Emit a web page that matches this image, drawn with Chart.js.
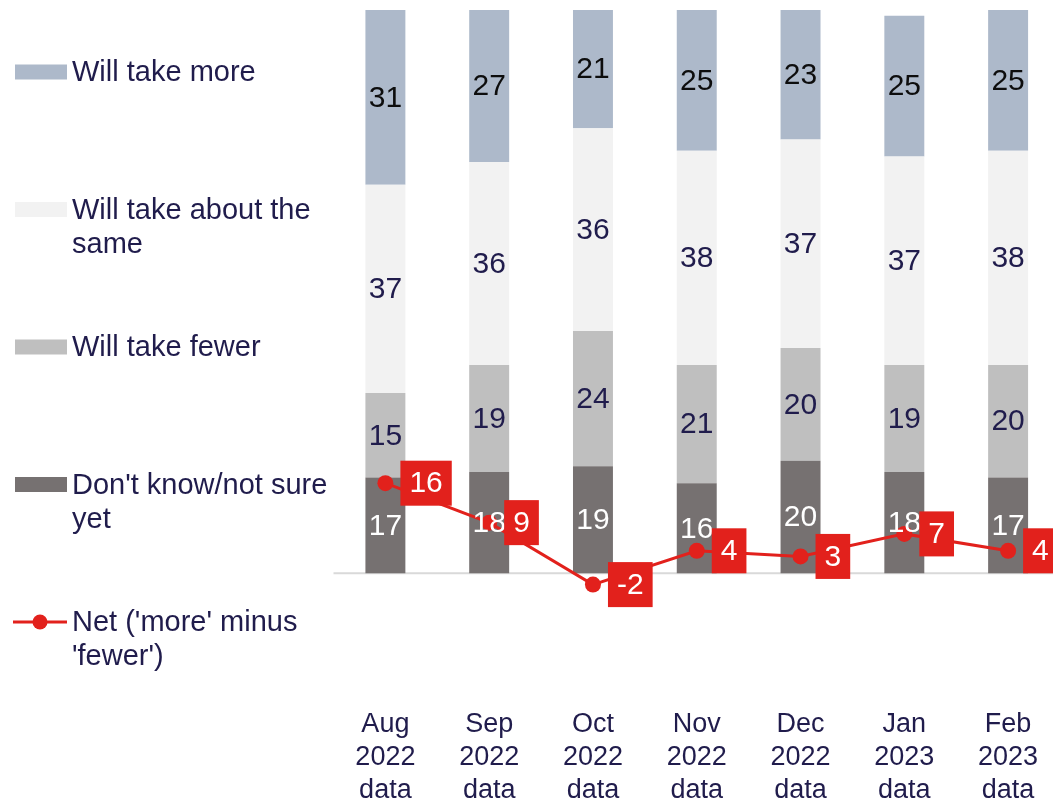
<!DOCTYPE html>
<html lang="en">
<head>
<meta charset="utf-8" />
<title>Expected number to take, by survey month</title>
<script src="https://cdn.jsdelivr.net/npm/chart.js@4.4.1/dist/chart.umd.min.js"></script>
<style>
  html, body { margin: 0; padding: 0; background: #fff; overflow: hidden; }
  canvas { display: block; }
</style>
</head>
<body>
<canvas id="chart" width="1060" height="802"></canvas>
<script>
const MONTHS = [
  ["Aug", "2022", "data"],
  ["Sep", "2022", "data"],
  ["Oct", "2022", "data"],
  ["Nov", "2022", "data"],
  ["Dec", "2022", "data"],
  ["Jan", "2023", "data"],
  ["Feb", "2023", "data"],
];
const WILL_TAKE_MORE = [31, 27, 21, 25, 23, 25, 25];
const ABOUT_THE_SAME = [37, 36, 36, 38, 37, 37, 38];
const WILL_TAKE_FEWER = [15, 19, 24, 21, 20, 19, 20];
const DONT_KNOW = [17, 18, 19, 16, 20, 18, 17];
const NET = [16, 9, -2, 4, 3, 7, 4];

// legend entries top to bottom, already wrapped
const LEGEND_TEXT = [
  ["Will take more"],
  ["Will take about the", "same"],
  ["Will take fewer"],
  ["Don't know/not sure", "yet"],
  ["Net ('more' minus", "'fewer')"],
];

const FONT = '"Liberation Sans", Arial, sans-serif';
const NAVY = "#201c4c";
const RED = "#e2211c";

const label = (k) => LEGEND_TEXT[k].join(" ");

// bottom of the stack first
const datasets = [
  { type: "bar", label: label(3), data: DONT_KNOW, backgroundColor: "#767171", labelColor: "#ffffff" },
  { type: "bar", label: label(2), data: WILL_TAKE_FEWER, backgroundColor: "#bfbfbf", labelColor: NAVY },
  { type: "bar", label: label(1), data: ABOUT_THE_SAME, backgroundColor: "#f2f2f2", labelColor: NAVY },
  { type: "bar", label: label(0), data: WILL_TAKE_MORE, backgroundColor: "#adb9ca", labelColor: "#0d0d0d" },
  {
    type: "line",
    label: label(4),
    data: NET,
    stack: "net",
    order: 0,
    borderColor: RED,
    backgroundColor: RED,
    borderWidth: 3,
    pointRadius: 8,
    pointBackgroundColor: RED,
    pointBorderWidth: 0,
    tension: 0,
  },
].map((d) => (d.type === "bar" ? { ...d, order: 1, borderWidth: 0, barPercentage: 0.385, categoryPercentage: 1 } : d));

const zeroLine = {
  id: "zeroLine",
  beforeDatasetsDraw(chart) {
    const { ctx, chartArea } = chart;
    const y = chart.scales.y.getPixelForValue(0);
    ctx.save();
    ctx.strokeStyle = "#d9d9d9";
    ctx.lineWidth = 2;
    ctx.beginPath();
    ctx.moveTo(chartArea.left, y);
    ctx.lineTo(chartArea.right, y);
    ctx.stroke();
    ctx.restore();
  },
};

const valueLabels = {
  id: "valueLabels",
  afterDatasetsDraw(chart) {
    const ctx = chart.ctx;
    ctx.save();
    ctx.font = `30px ${FONT}`;
    ctx.textAlign = "center";
    ctx.textBaseline = "middle";

    chart.data.datasets.forEach((ds, di) => {
      if (ds.type !== "bar") return;
      chart.getDatasetMeta(di).data.forEach((bar, i) => {
        const { x, y, base } = bar.getProps(["x", "y", "base"], true);
        ctx.fillStyle = ds.labelColor;
        ctx.fillText(String(ds.data[i]), x, (y + base) / 2 + 1);
      });
    });

    // red boxes with the net value, just right of each point
    const ni = chart.data.datasets.findIndex((d) => d.type === "line");
    chart.getDatasetMeta(ni).data.forEach((pt, i) => {
      const text = String(chart.data.datasets[ni].data[i]);
      const w = ctx.measureText(text).width + 18;
      const h = 45;
      const left = pt.x + 15;
      ctx.fillStyle = RED;
      ctx.fillRect(left, pt.y - h / 2, w, h);
      ctx.fillStyle = "#ffffff";
      ctx.fillText(text, left + w / 2, pt.y + 1);
    });
    ctx.restore();
  },
};

const sideLegend = {
  id: "sideLegend",
  afterDraw(chart) {
    const ctx = chart.ctx;
    ctx.save();
    ctx.font = `29px ${FONT}`;
    ctx.textAlign = "left";
    ctx.textBaseline = "middle";
    LEGEND_TEXT.forEach((lines, k) => {
      const ds = chart.data.datasets.find((d) => d.label === label(k));
      const y = 72 + k * 137.5;
      if (ds.type === "line") {
        ctx.strokeStyle = ds.borderColor;
        ctx.lineWidth = 3;
        ctx.beginPath();
        ctx.moveTo(13, y);
        ctx.lineTo(67, y);
        ctx.stroke();
        ctx.fillStyle = ds.borderColor;
        ctx.beginPath();
        ctx.arc(40, y, 7.5, 0, Math.PI * 2);
        ctx.fill();
      } else {
        ctx.fillStyle = ds.backgroundColor;
        ctx.fillRect(15, y - 7.5, 52, 15);
      }
      ctx.fillStyle = NAVY;
      lines.forEach((line, j) => ctx.fillText(line, 72, y + 1 + j * 34));
    });
    ctx.restore();
  },
};

new Chart(document.getElementById("chart"), {
  data: { labels: MONTHS, datasets },
  plugins: [zeroLine, valueLabels, sideLegend],
  options: {
    responsive: false,
    animation: false,
    // canvas is a little wider than the window, so the last column is cut off at the edge
    layout: { autoPadding: false, padding: { left: 333.5, top: 10, right: 0, bottom: 0 } },
    plugins: { legend: { display: false }, tooltip: { enabled: false } },
    scales: {
      x: {
        stacked: true,
        grid: { display: false, drawTicks: false },
        border: { display: false },
        ticks: {
          color: NAVY,
          font: { family: FONT, size: 27, lineHeight: "33px" },
          padding: 22,
          autoSkip: false,
          maxRotation: 0,
        },
        afterFit(scale) {
          scale.height = 116;
          scale.paddingLeft = 0;
          scale.paddingRight = 0;
        },
      },
      y: {
        stacked: true,
        display: false,
        min: -20,
        max: 100,
      },
    },
  },
});
</script>
</body>
</html>
